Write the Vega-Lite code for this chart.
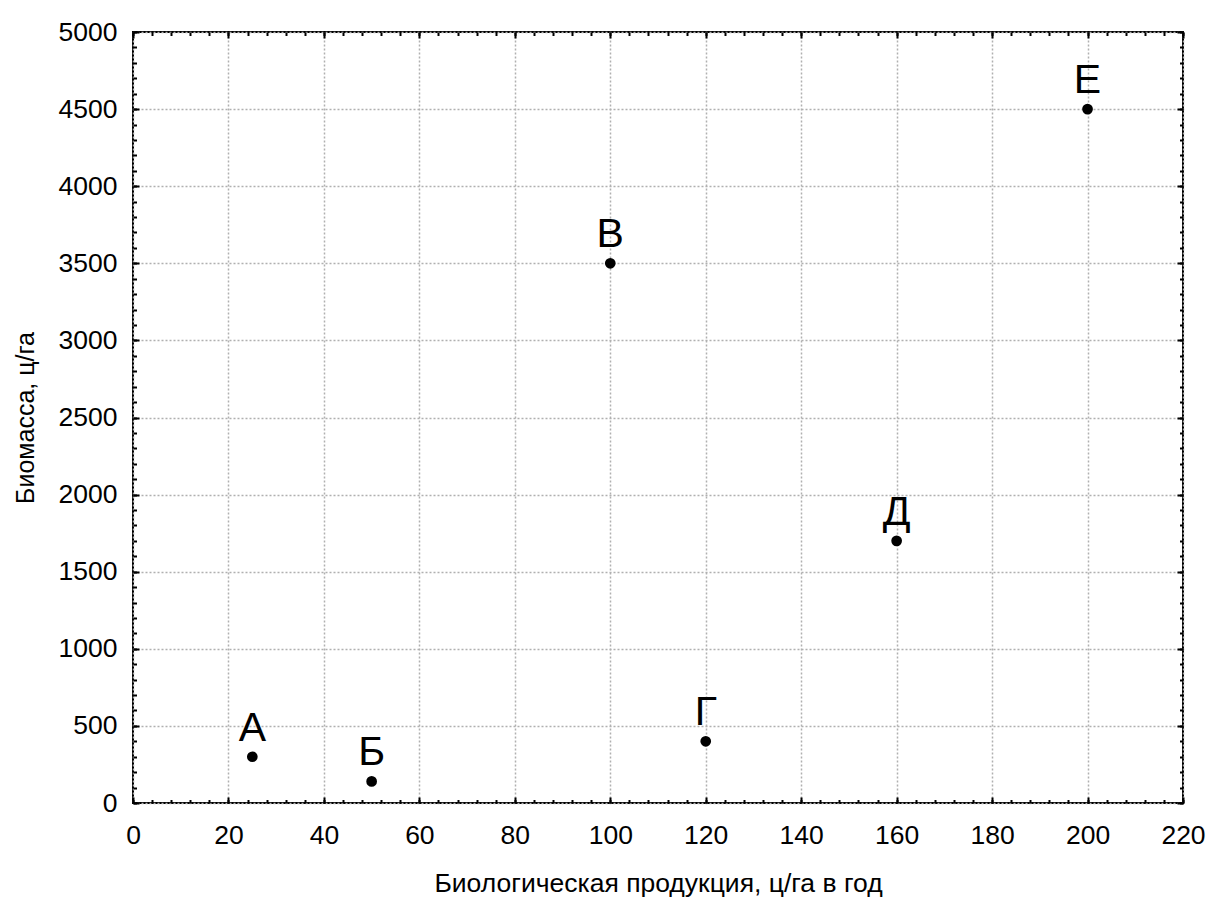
{
  "$schema": "https://vega.github.io/schema/vega-lite/v6.json",
  "width": 1050,
  "height": 771,
  "autosize": {"type": "none"},
  "padding": {"left": 133, "top": 32, "right": 32, "bottom": 103},
  "background": "white",
  "config": {
    "view": {"stroke": "black", "strokeWidth": 2},
    "axis": {
      "domain": false,
      "labelFont": "Liberation Sans",
      "titleFont": "Liberation Sans",
      "labelColor": "black",
      "titleColor": "black",
      "tickColor": "black",
      "tickWidth": 2,
      "labelFlush": false,
      "titleFontWeight": "normal"
    }
  },
  "data": {
    "values": [
      {"label": "А", "x": 25, "y": 300},
      {"label": "Б", "x": 50, "y": 140},
      {"label": "В", "x": 100, "y": 3500},
      {"label": "Г", "x": 120, "y": 400},
      {"label": "Д", "x": 160, "y": 1700},
      {"label": "Е", "x": 200, "y": 4500}
    ]
  },
  "layer": [
    {
      "mark": {"type": "point", "filled": true, "color": "black", "opacity": 1, "size": 115},
      "encoding": {
        "x": {
          "field": "x", "type": "quantitative",
          "scale": {"domain": [0, 220], "nice": false, "zero": false},
          "axis": {
            "orient": "bottom",
            "values": [0, 20, 40, 60, 80, 100, 120, 140, 160, 180, 200, 220],
            "format": "d",
            "grid": true, "gridDash": [2, 2], "gridColor": "#b0b0b0", "gridWidth": 1.5,
            "ticks": true, "tickSize": -6,
            "labelFontSize": 26.5, "labelPadding": 25,
            "title": "Биологическая продукция, ц/га в год",
            "titleFontSize": 26.5, "titlePadding": 22
          }
        },
        "y": {
          "field": "y", "type": "quantitative",
          "scale": {"domain": [0, 5000], "nice": false, "zero": false},
          "axis": {
            "orient": "left",
            "values": [0, 500, 1000, 1500, 2000, 2500, 3000, 3500, 4000, 4500, 5000],
            "format": "d",
            "grid": true, "gridDash": [2, 2], "gridColor": "#b0b0b0", "gridWidth": 1.5,
            "ticks": true, "tickSize": -6,
            "labelFontSize": 26.5, "labelPadding": 22,
            "title": "Биомасса, ц/га",
            "titleFontSize": 25, "titlePadding": 20
          }
        }
      }
    },
    {
      "mark": {"type": "text", "font": "Liberation Sans", "fontSize": 41, "color": "black", "baseline": "alphabetic", "align": "center", "dy": -16},
      "encoding": {
        "text": {"field": "label"},
        "x": {
          "field": "x", "type": "quantitative",
          "scale": {"domain": [0, 220], "nice": false, "zero": false},
          "axis": {
            "orient": "top",
            "values": [0, 20, 40, 60, 80, 100, 120, 140, 160, 180, 200, 220],
            "grid": false, "labels": false, "ticks": true, "tickSize": -6, "title": null
          }
        },
        "y": {
          "field": "y", "type": "quantitative",
          "scale": {"domain": [0, 5000], "nice": false, "zero": false},
          "axis": {
            "orient": "right",
            "values": [0, 500, 1000, 1500, 2000, 2500, 3000, 3500, 4000, 4500, 5000],
            "grid": false, "labels": false, "ticks": true, "tickSize": -6, "title": null
          }
        }
      }
    },
    {
      "mark": {"type": "point", "opacity": 0},
      "encoding": {
        "x": {
          "field": "x", "type": "quantitative",
          "scale": {"domain": [0, 220], "nice": false, "zero": false},
          "axis": {
            "orient": "bottom",
            "values": [0,4,8,12,16,20,24,28,32,36,40,44,48,52,56,60,64,68,72,76,80,84,88,92,96,100,104,108,112,116,120,124,128,132,136,140,144,148,152,156,160,164,168,172,176,180,184,188,192,196,200,204,208,212,216,220],
            "grid": false, "labels": false, "ticks": true, "tickSize": -3.5, "title": null
          }
        },
        "y": {
          "field": "y", "type": "quantitative",
          "scale": {"domain": [0, 5000], "nice": false, "zero": false},
          "axis": {
            "orient": "left",
            "values": [0,100,200,300,400,500,600,700,800,900,1000,1100,1200,1300,1400,1500,1600,1700,1800,1900,2000,2100,2200,2300,2400,2500,2600,2700,2800,2900,3000,3100,3200,3300,3400,3500,3600,3700,3800,3900,4000,4100,4200,4300,4400,4500,4600,4700,4800,4900,5000],
            "grid": false, "labels": false, "ticks": true, "tickSize": -3.5, "title": null
          }
        }
      }
    },
    {
      "mark": {"type": "point", "opacity": 0},
      "encoding": {
        "x": {
          "field": "x", "type": "quantitative",
          "scale": {"domain": [0, 220], "nice": false, "zero": false},
          "axis": {
            "orient": "top",
            "values": [0,4,8,12,16,20,24,28,32,36,40,44,48,52,56,60,64,68,72,76,80,84,88,92,96,100,104,108,112,116,120,124,128,132,136,140,144,148,152,156,160,164,168,172,176,180,184,188,192,196,200,204,208,212,216,220],
            "grid": false, "labels": false, "ticks": true, "tickSize": -3.5, "title": null
          }
        },
        "y": {
          "field": "y", "type": "quantitative",
          "scale": {"domain": [0, 5000], "nice": false, "zero": false},
          "axis": {
            "orient": "right",
            "values": [0,100,200,300,400,500,600,700,800,900,1000,1100,1200,1300,1400,1500,1600,1700,1800,1900,2000,2100,2200,2300,2400,2500,2600,2700,2800,2900,3000,3100,3200,3300,3400,3500,3600,3700,3800,3900,4000,4100,4200,4300,4400,4500,4600,4700,4800,4900,5000],
            "grid": false, "labels": false, "ticks": true, "tickSize": -3.5, "title": null
          }
        }
      }
    }
  ],
  "resolve": {"axis": {"x": "independent", "y": "independent"}}
}
